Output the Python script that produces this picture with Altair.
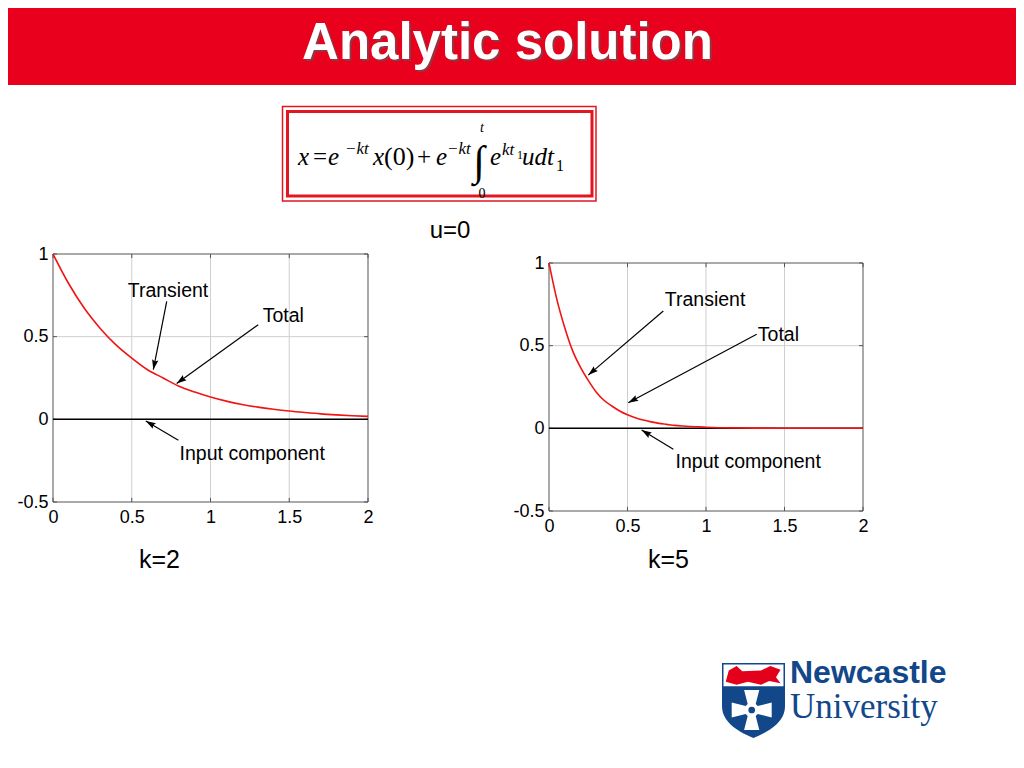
import math
import altair as alt
import pandas as pd

# ---------------- data ----------------
# k = 2 : transient (= total) response
t_k2 = [0.0, 0.1, 0.2, 0.3, 0.4, 0.5, 0.6, 0.7, 0.8, 0.9, 1.0,
        1.1, 1.2, 1.3, 1.4, 1.5, 1.6, 1.7, 1.8, 1.9, 2.0]
x_k2 = [1.0, 0.82, 0.67, 0.55, 0.45, 0.37, 0.30, 0.25, 0.20, 0.165, 0.135,
        0.11, 0.09, 0.074, 0.061, 0.05, 0.041, 0.033, 0.027, 0.022, 0.018]
# k = 5 : transient (= total) response
t_k5 = [0.0, 0.05, 0.1, 0.15, 0.2, 0.25, 0.3, 0.35, 0.4, 0.45, 0.5,
        0.55, 0.6, 0.65, 0.7, 0.75, 0.8, 0.85, 0.9, 0.95, 1.0,
        1.2, 1.4, 1.6, 1.8, 2.0]
x_k5 = [1.0, 0.78, 0.61, 0.47, 0.37, 0.29, 0.22, 0.17, 0.135, 0.105, 0.082,
        0.064, 0.05, 0.039, 0.03, 0.024, 0.018, 0.014, 0.011, 0.009, 0.007,
        0.0025, 0.001, 0.0004, 0.0002, 0.0001]
# input component (u = 0)
t_input = [0.0, 2.0]
x_input = [0.0, 0.0]
x_ticks = [0, 0.5, 1, 1.5, 2]
y_ticks = [-0.5, 0, 0.5, 1]
ann_text = ["Transient", "Total", "Input component"]

# ---------------- layout / style ----------------
W, H = 1008, 752
FONT = "Liberation Sans"
SERIF = "Liberation Serif"
RED_BAR = "#e8001c"
BOX_RED = "#e3151f"
CURVE_RED = "#f01414"
BLUE = "#12478a"
FRAME = "#555555"
GRIDC = "#cfcfcf"

one = alt.Data(values=[{"o": 1}])


def label(text, x, y, size, font=FONT, color="black", align="left", **kw):
    return alt.Chart(one).mark_text(
        text=text, font=font, fontSize=size, color=color, align=align,
        baseline="alphabetic", **kw
    ).encode(x=alt.value(x), y=alt.value(y))


def box(x1, y1, x2, y2, **kw):
    return alt.Chart(one).mark_rect(**kw).encode(
        x=alt.value(x1), x2=alt.value(x2), y=alt.value(y1), y2=alt.value(y2))


def symbol(path, x, y, size, color):
    return alt.Chart(one).mark_point(
        shape=path, size=size, filled=True, color=color, opacity=1, strokeWidth=0
    ).encode(x=alt.value(x), y=alt.value(y))


deco = []
# title bar
deco.append(box(0, 0, W, 77, color=RED_BAR))
deco.append(label("Analytic solution", 501.5, 52.5, 51, fontWeight="bold",
                  color="#5a5a5a", align="center", opacity=0.6))
deco.append(label("Analytic solution", 499.5, 50.5, 51, fontWeight="bold",
                  color="white", align="center"))

# formula box
deco.append(box(274.5, 98.5, 588, 193, filled=False, color=BOX_RED, strokeWidth=1.5))
deco.append(box(279.5, 103.5, 584, 188, filled=False, color=BOX_RED, strokeWidth=3))

IT = {"fontStyle": "italic"}
deco += [
    label("x", 290, 157, 25, font=SERIF, **IT),
    label("=", 305, 157, 25, font=SERIF),
    label("e", 320, 157, 25, font=SERIF, **IT),
    label("\u2212kt", 337, 146, 17, font=SERIF, **IT),
    label("x", 365, 157, 25, font=SERIF, **IT),
    label("(0)", 376, 157, 26, font=SERIF),
    label("+", 409, 157, 25, font=SERIF),
    label("e", 428, 157, 25, font=SERIF, **IT),
    label("\u2212kt", 439, 146, 17, font=SERIF, **IT),
    label("\u222b", 471, 167, 42, font=SERIF, align="center"),
    label("t", 474, 124, 14, font=SERIF, align="center", **IT),
    label("0", 474, 190, 14, font=SERIF, align="center"),
    label("e", 482, 157, 25, font=SERIF, **IT),
    label("kt", 494, 147, 17, font=SERIF, **IT),
    label("1", 509, 151, 12, font=SERIF),
    label("udt", 514, 157, 25, font=SERIF, **IT),
    label("1", 548, 163, 16, font=SERIF),
]

deco.append(label("u=0", 442, 230, 24, align="center"))

# logo
SHIELD = ("M-0.84,-1 L0.84,-1 L0.84,0.15 C0.84,0.6 0.35,0.85 0,1 "
          "C-0.35,0.85 -0.84,0.6 -0.84,0.15 Z")
BAND = "M-0.8,-0.96 L0.8,-0.96 L0.8,-0.38 L-0.8,-0.38 Z"
LION = ("M-0.74,-0.5 L-0.66,-0.8 L-0.45,-0.92 L-0.3,-0.78 L0.2,-0.8 L0.45,-0.92 "
        "L0.72,-0.82 L0.6,-0.62 L0.72,-0.46 L0.42,-0.52 L0.2,-0.42 L-0.15,-0.5 "
        "L-0.45,-0.42 Z")
CROSS = ("M-0.2,-0.3 L-0.38,-1 L0.38,-1 L0.2,-0.3 L0.3,-0.2 L1,-0.38 L1,0.38 "
         "L0.3,0.2 L0.2,0.3 L0.38,1 L-0.38,1 L-0.2,0.3 L-0.3,0.2 L-1,0.38 "
         "L-1,-0.38 L-0.3,-0.2 Z")
deco += [
    symbol(SHIELD, 745.5, 692.5, 5625, BLUE),
    symbol(BAND, 745.5, 692.5, 5625, "white"),
    symbol(LION, 745.5, 692.5, 5625, "#e2001a"),
    symbol(CROSS, 743.7, 702, 1600, "white"),
    symbol("circle", 743.7, 702, 45, BLUE),
    label("Newcastle", 782, 675, 32, fontWeight="bold", color=BLUE),
    label("University", 782, 710, 35, font=SERIF, color=BLUE),
]

LBL = "datum.value < 0 ? '-' + format(-datum.value, '~g') : format(datum.value, '~g')"


def panel(t, x, xr, yr, xoff, yoff, title, title_x, title_y, ann):
    xs = alt.Scale(domain=[0, 2], range=xr, nice=False, zero=False)
    ys = alt.Scale(domain=[-0.5, 1], range=yr, nice=False, zero=False)
    xa = alt.Axis(orient="bottom", offset=xoff, values=x_ticks, labelExpr=LBL,
                  domain=False, ticks=False, grid=False, labelFont=FONT,
                  labelFontSize=18, labelColor="black", labelPadding=6,
                  labelFlush=False, labelOverlap=False, title=title,
                  titleFont=FONT, titleFontSize=25, titleFontWeight="normal",
                  titleColor="black", titleX=title_x, titleY=title_y,
                  titleBaseline="alphabetic", titleAlign="center")
    ya = alt.Axis(orient="left", offset=yoff, values=y_ticks, labelExpr=LBL,
                  domain=False, ticks=False, grid=False, labelFont=FONT,
                  labelFontSize=18, labelColor="black", labelPadding=5,
                  labelFlush=False, labelOverlap=False, title="")

    def X(field=None, datum=None):
        if field is not None:
            return alt.X(field, type="quantitative", scale=xs, axis=xa)
        return alt.X(datum=datum, type="quantitative", scale=xs, axis=xa)

    def Y(field=None, datum=None):
        if field is not None:
            return alt.Y(field, type="quantitative", scale=ys, axis=ya)
        return alt.Y(datum=datum, type="quantitative", scale=ys, axis=ya)

    xg = pd.DataFrame({"v": [v for v in x_ticks if 0 < v < 2]})
    yg = pd.DataFrame({"v": [v for v in y_ticks if -0.5 < v < 1]})
    xt = pd.DataFrame({"v": x_ticks})
    yt = pd.DataFrame({"v": y_ticks})
    tl_y, tl_x = 0.025, 0.025

    layers = [
        alt.Chart(xg).mark_rule(color=GRIDC, strokeWidth=1).encode(
            x=X("v"), y=Y(datum=-0.5), y2=alt.Y2(datum=1)),
        alt.Chart(yg).mark_rule(color=GRIDC, strokeWidth=1).encode(
            y=Y("v"), x=X(datum=0), x2=alt.X2(datum=2)),
        alt.Chart(one).mark_rect(filled=False, color=FRAME, strokeWidth=1).encode(
            x=X(datum=0), x2=alt.X2(datum=2), y=Y(datum=-0.5), y2=alt.Y2(datum=1)),
        alt.Chart(xt).mark_rule(color=FRAME).encode(
            x=X("v"), y=Y(datum=-0.5), y2=alt.Y2(datum=-0.5 + tl_y)),
        alt.Chart(xt).mark_rule(color=FRAME).encode(
            x=X("v"), y=Y(datum=1), y2=alt.Y2(datum=1 - tl_y)),
        alt.Chart(yt).mark_rule(color=FRAME).encode(
            y=Y("v"), x=X(datum=0), x2=alt.X2(datum=tl_x)),
        alt.Chart(yt).mark_rule(color=FRAME).encode(
            y=Y("v"), x=X(datum=2), x2=alt.X2(datum=2 - tl_x)),
        alt.Chart(pd.DataFrame({"t": t_input, "x": x_input})).mark_line(
            color="black", strokeWidth=1.5).encode(x=X("t"), y=Y("x")),
        alt.Chart(pd.DataFrame({"t": t, "x": x})).mark_line(
            color=CURVE_RED, strokeWidth=1.6, interpolate="monotone").encode(
            x=X("t"), y=Y("x")),
    ]

    sx = (xr[1] - xr[0]) / 2.0
    sy = (yr[0] - yr[1]) / 1.5
    rows = []
    for txt, (lx, ly), (ax1, ay1, ax2, ay2) in ann:
        ang = math.degrees(math.atan2((ax2 - ax1) * sx, (ay2 - ay1) * sy)) % 360
        rows.append({"text": txt, "lx": lx, "ly": ly, "x1": ax1, "y1": ay1,
                     "x2": ax2, "y2": ay2, "ang": ang})
    adf = pd.DataFrame(rows)
    layers += [
        alt.Chart(adf).mark_rule(color="black", strokeWidth=1.2).encode(
            x=X("x1"), y=Y("y1"), x2="x2:Q", y2="y2:Q"),
        alt.Chart(adf).mark_point(
            shape="M0,0 L-0.32,1 L0,0.85 L0.32,1 Z", size=400, filled=True,
            color="black", opacity=1, strokeWidth=0).encode(
            x=X("x2"), y=Y("y2"), angle=alt.Angle("ang:Q", scale=None)),
        alt.Chart(adf).mark_text(font=FONT, fontSize=19.5, color="black",
                                 align="center", baseline="middle").encode(
            x=X("lx"), y=Y("ly"), text="text:N"),
    ]
    return alt.layer(*layers)


ann_left = [
    (ann_text[0], (0.73, 0.777), (0.722, 0.713, 0.637, 0.30)),
    (ann_text[1], (1.462, 0.627), (1.303, 0.572, 0.785, 0.217)),
    (ann_text[2], (1.265, -0.211), (0.796, -0.127, 0.589, -0.01)),
]
ann_right = [
    (ann_text[0], (0.994, 0.777), (0.728, 0.71, 0.25, 0.322)),
    (ann_text[1], (1.461, 0.565), (1.323, 0.569, 0.505, 0.155)),
    (ann_text[2], (1.269, -0.206), (0.792, -0.127, 0.59, -0.01)),
]

left = panel(t_k2, x_k2, [45, 360], [494, 246], 494 - H, -45, "k=2", 151, 65, ann_left)
right = panel(t_k5, x_k5, [541, 855], [503, 255], 503 - H, -541, "k=5", 660, 56, ann_right)

chart = alt.layer(*deco, left, right).resolve_scale(
    x="independent", y="independent"
).properties(
    width=W, height=H, padding=0,
    autosize=alt.AutoSizeParams(type="none"),
    background="white",
).configure_view(strokeWidth=0)

chart.save("out.html", embed_options={"renderer": "svg", "actions": False})
